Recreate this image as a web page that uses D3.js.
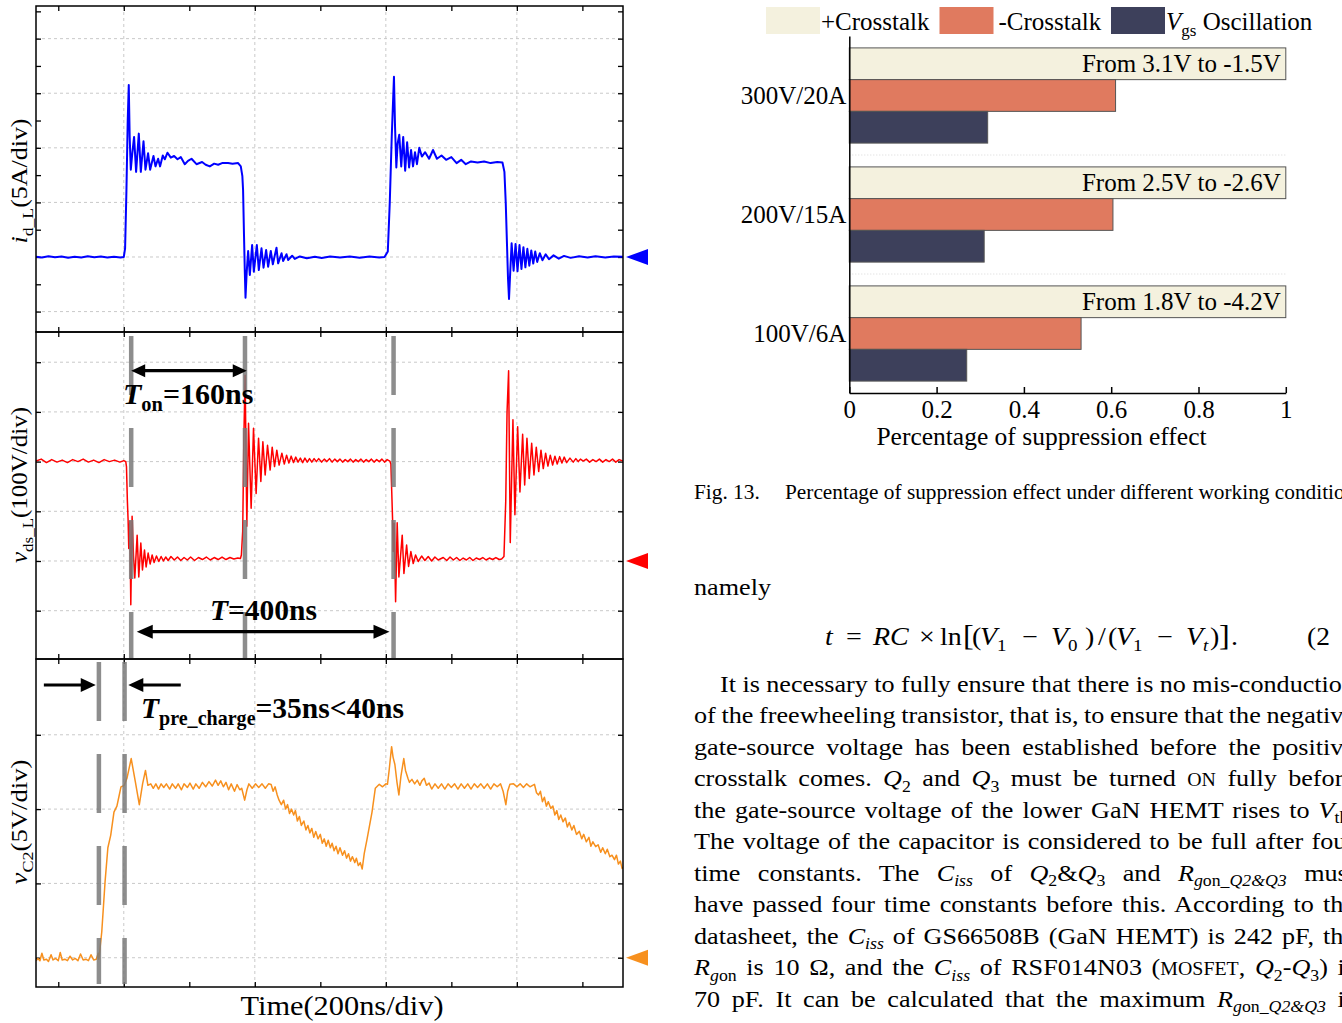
<!DOCTYPE html>
<html>
<head>
<meta charset="utf-8">
<script src="https://cdn.jsdelivr.net/npm/d3@7"></script>
<style>
  body { margin: 0; background: #fff; }
  svg { display: block; }
  text { font-family: 'Liberation Serif', 'Times New Roman', serif; fill: #000; }
</style>
</head>
<body>
<svg id="fig" width="1342" height="1023"></svg>
<script>
// ---- bar chart data (Fig. 13) ----
const barCategories = ['300V/20A', '200V/15A', '100V/6A']
const barSeries = ['+Crosstalk', '-Crosstalk', 'Vgs Oscillation']
const plusCrosstalk = [1, 1, 1]
const minusCrosstalk = [0.61, 0.604, 0.531]
const vgsOscillation = [0.317, 0.309, 0.269]
const barNotes = ['From 3.1V to -1.5V', 'From 2.5V to -2.6V', 'From 1.8V to -4.2V']
const barTicks = [0, 0.2, 0.4, 0.6, 0.8, 1]
const barColors = ['#f4f1de', '#e07a5f', '#3d405b']

// ---- oscilloscope traces, [time ns, value] ----
const timeTicks = [-100, 0, 100, 200, 300, 400, 500, 600, 700]
const timeGrid = [0, 200, 400, 600]

const idWave = [
  [-134, 0.02], [-125, -0.05], [-115, 0.06], [-105, -0.03], [-95, 0.05], [-85, -0.06], [-75, 0.03], [-65, -0.04],
  [-55, 0.06], [-45, -0.03], [-35, 0.04], [-25, -0.05], [-15, 0.03], [-5, -0.04], [0, 0.0],
  [2, 0.8], [4, 6], [6, 12.5], [7.6, 15.75], [9, 11], [10.7, 8.0], [13, 9.5], [15.7, 11.0], [18.8, 7.8],
  [22.9, 11.3], [26, 7.8], [30.1, 10.6], [33.1, 8.0], [37.1, 9.5], [40.2, 8.0], [45.3, 9.25], [48.4, 8.3],
  [52.4, 9.0], [55.4, 8.3], [59.5, 9.3], [62.6, 8.95], [66.7, 9.55], [71.8, 9.1], [76.8, 9.25], [82, 8.95],
  [87, 9.15], [93.1, 8.5], [98, 8.8], [103.4, 9.0], [111, 8.5], [119.5, 8.7], [125, 8.45], [131.3, 8.3],
  [138, 8.55], [144, 8.45], [150, 8.6], [159.2, 8.6], [166, 8.55], [174.5, 8.6], [178.6, 8.3], [181, 7.4],
  [182.1, 6.1], [183.5, 2.0], [184.8, -1.5], [185.8, -3.73], [187.5, -1.5], [189.8, 0.55], [192.4, -1.65],
  [195.9, 1.1], [198.5, -1.35], [203.1, 1.1], [206.1, -1.2], [210.2, 0.8], [213.3, -0.98], [217.3, 0.64],
  [220.3, -0.89], [224.4, 0.55], [227.5, -0.67], [233.1, 0.85], [235.6, -0.58], [240.8, 0.34], [243.2, -0.37],
  [248.4, 0.25], [250.8, -0.27], [257, 0.12], [261, -0.18], [268.7, 0.05], [279.4, -0.12], [291.6, 0.02],
  [302, -0.1], [315, 0.05], [330, -0.05], [345, 0.04], [360, -0.06], [375, 0.05], [390, -0.05], [398, 0.0],
  [403, 0.5], [406, 5], [409, 11], [412.4, 16.5], [414, 12], [416, 8.2], [418, 10.4], [420.5, 11.2],
  [423.5, 8.3], [426.5, 11.0], [429.5, 7.9], [432.5, 10.5], [435.5, 8.2], [438.5, 9.8], [441.5, 8.3],
  [444.5, 9.6], [447.5, 8.5], [451, 10.0], [455, 9.2], [460, 9.6], [466, 9.0], [472, 9.8], [478, 9.0],
  [485, 9.3], [492, 8.9], [500, 9.15], [508, 8.6], [515, 8.9], [522, 8.5], [530, 8.75], [540, 8.65],
  [550, 8.75], [560, 8.6], [570, 8.7], [578, 8.65], [581, 7.8], [583, 5], [585, 1], [586.5, -2], [588, -3.85],
  [590, -1.2], [592, 1.25], [595, -1.25], [598, 1.2], [601, -1.3], [604, 1.1], [607, -1.1], [610, 0.9],
  [613, -0.95], [616, 0.75], [619, -0.8], [622, 0.6], [625, -0.6], [628, 0.5], [631, -0.45], [635, 0.35],
  [639, -0.3], [644, 0.25], [649, -0.2], [656, 0.15], [664, -0.15], [672, 0.1], [682, -0.08], [695, 0.06],
  [708, -0.05], [720, 0.07], [735, -0.04], [748, 0.05], [762, 0.02],
]

const vdsWave = [
  [-134, 201], [-126, 205], [-118, 198], [-110, 204], [-102, 199], [-94, 203], [-86, 198], [-78, 204],
  [-70, 200], [-62, 205], [-54, 199], [-46, 203], [-38, 198], [-30, 204], [-22, 200], [-14, 203], [-6, 199],
  [0, 202], [3, 200], [4.1, 190], [5.5, 120], [6.6, 82], [7.6, 25], [9.2, 80], [10.7, -88], [12.7, 90],
  [14.8, 10], [16.8, -34], [20.4, 52], [22.9, -32], [26, 36], [28.5, -18], [31.6, 22], [34.1, -12],
  [37.2, 16], [40.2, -6], [43.3, 12], [46.3, -3], [49.9, 10], [53.5, -1], [57, 9], [60.5, 0], [64, 8],
  [67.7, 1], [72, 9], [77, 2], [82, 8], [87, 1], [92, 7], [97, 2], [102, 8], [108, 1], [114, 7], [120, 3],
  [126, 8], [132, 2], [138, 7], [144, 3], [150, 8], [156, 3], [162, 7], [168, 4], [174, 6], [178, 5],
  [179.5, 12], [181.5, 60], [183.3, 250], [185.2, 374], [187.8, 70], [190.4, 277], [194.4, 106], [198, 267],
  [202, 136], [205.7, 247], [209.2, 160], [212.3, 240], [215.8, 173], [219.4, 233], [223.4, 183],
  [226.5, 229], [230.1, 190], [233.6, 223], [237.1, 193], [241.3, 217], [245, 195], [248.5, 213], [252, 197],
  [255.5, 211], [259, 198], [262.5, 209], [266, 199], [269.5, 207], [273, 198], [276.5, 207], [280, 199],
  [283.5, 206], [287, 199], [290.5, 206], [294, 200], [297.5, 206], [302, 199], [306, 205], [310, 200],
  [314, 206], [318, 199], [322, 205], [326, 200], [330, 205], [334, 199], [338, 204], [342, 200], [346, 205],
  [350, 199], [354, 204], [358, 200], [362, 205], [366, 199], [370, 204], [374, 200], [378, 205], [382, 199],
  [386, 204], [390, 200], [394, 205], [398, 199], [402, 204], [406, 201], [407.7, 195], [409, 140],
  [410.3, 82], [411.2, 19], [412.7, 76], [414.9, -82], [417.3, 77], [419.9, -32], [425, 52], [427.6, -25],
  [431.7, 32], [434.7, -11], [438.2, 19], [441.8, -5], [445.4, 12], [449.4, -1], [454.6, 10], [459.6, 1],
  [464.7, 9], [469.9, 0], [474.9, 8], [479.9, 2], [487.6, 7], [493, 1], [498, 8], [503, 2], [508, 7],
  [513, 1], [518, 6], [523, 2], [528, 7], [533, 1], [538, 6], [543, 3], [548, 7], [553, 2], [558, 6],
  [563, 3], [568, 7], [573, 3], [576.7, 4], [580.3, 9], [583, 120], [585, 300], [587.4, 383], [589.9, 37],
  [594, 284], [597, 93], [601.2, 270], [604.7, 139], [608.8, 255], [611.9, 153], [615.4, 247], [618.9, 166],
  [622.6, 237], [626.1, 173], [629.6, 229], [633.3, 180], [636.8, 223], [640.3, 186], [643.9, 217],
  [647.4, 191], [651, 213], [654.6, 193], [658.1, 211], [661.6, 195], [665.3, 210], [668.8, 197],
  [672.3, 209], [676, 198], [681, 207], [686, 199], [690, 206], [693.7, 200], [697, 205], [701.3, 201],
  [706, 205], [711, 199], [716, 204], [721, 200], [726, 205], [731, 199], [736, 204], [741, 200], [746, 205],
  [751, 199], [756, 204], [762, 201],
]

const vc2Wave = [
  [-134, -0.2], [-131, -0.05], [-128, -0.2], [-125, 0.3], [-122, -0.15], [-118, -0.1], [-115, -0.25],
  [-111, 0.2], [-108, -0.15], [-104, -0.05], [-100, -0.2], [-97, 0.35], [-94, -0.15], [-90, -0.1],
  [-86, -0.2], [-82, 0.1], [-78, -0.15], [-74, -0.05], [-70, -0.2], [-66, 0.25], [-62, -0.15], [-58, -0.1],
  [-54, -0.2], [-50, 0.2], [-46, -0.15], [-42, -0.1], [-39, 0.3], [-38, -0.1], [-33.6, 1.75], [-28.6, 5.1],
  [-24.3, 7.4], [-19.9, 8.25], [-15, 9.8], [-10.5, 10.2], [-6.9, 10.95], [-4.3, 11.5], [0.6, 11.6],
  [5, 12.1], [11.3, 13.4], [17.6, 11.85], [23.7, 10.3], [28.7, 11.7], [33.1, 12.6], [36.8, 11.6],
  [41.2, 11.7], [45, 11.4], [49, 11.7], [53, 11.35], [57, 11.7], [61, 11.45], [65, 11.7], [70, 11.35],
  [74, 11.7], [79, 11.4], [83, 11.7], [88, 11.3], [92, 11.7], [97, 11.45], [101, 11.75], [106, 11.35],
  [110, 11.7], [115, 11.4], [120, 11.8], [125, 11.5], [130, 11.85], [135, 11.55], [140, 11.95], [144, 11.6],
  [148, 11.9], [152, 11.5], [156, 11.8], [160, 11.3], [164, 11.7], [169, 11.2], [173, 11.65], [177, 11.3],
  [180, 11.4], [184.5, 10.6], [188, 11.3], [191, 11.7], [196, 11.4], [201, 11.7], [206, 11.45], [211, 11.7],
  [216, 11.4], [221, 11.7], [224.9, 11.65], [228, 11.2], [231, 11.5], [234.2, 10.95], [237, 10.6],
  [240.5, 10.3], [244, 10.6], [247, 10.0], [250, 10.3], [253, 9.7], [256, 10.0], [259.3, 9.6], [262, 9.9],
  [265, 9.2], [268, 9.5], [271, 8.9], [274.8, 9.2], [278, 8.6], [281, 8.9], [284, 8.4], [287, 8.7],
  [290, 8.1], [293, 8.5], [296.5, 8.0], [300, 8.3], [303, 7.7], [306, 8.0], [309, 7.5], [312, 7.9],
  [315.3, 7.4], [318, 7.7], [321, 7.2], [324, 7.5], [327, 7.0], [330, 7.4], [333.9, 6.9], [337, 7.2],
  [340, 6.7], [343, 7.0], [346, 6.5], [349, 6.8], [352.7, 6.4], [355, 6.7], [358, 6.2], [361, 6.4],
  [363.9, 5.97], [367, 7.0], [371.4, 8.0], [378.9, 9.8], [383.9, 11.4], [390, 11.67], [395, 11.5],
  [400, 11.7], [402.5, 11.67], [405, 12.6], [408.8, 14.2], [411, 13.5], [413.8, 13.0], [417, 11.8],
  [419.9, 10.95], [423, 12.2], [427.4, 13.4], [430, 12.6], [433.7, 12.07], [436, 11.8], [439.8, 12.0],
  [444, 11.7], [448, 11.95], [452, 11.6], [455, 11.9], [458.6, 12.07], [462, 11.6], [466, 11.75],
  [470, 11.35], [475, 11.7], [480, 11.4], [485, 11.7], [490, 11.35], [495, 11.7], [500, 11.45], [505, 11.7],
  [510, 11.35], [515, 11.7], [520, 11.4], [525, 11.7], [530, 11.35], [535, 11.7], [540, 11.45], [545, 11.7],
  [550, 11.4], [555, 11.7], [560, 11.35], [565, 11.7], [570, 11.5], [575, 11.7], [579, 11.2], [583.2, 10.3],
  [586, 11.2], [589.4, 11.67], [595, 11.7], [600, 11.5], [605, 11.7], [610, 11.45], [615, 11.7], [620, 11.5],
  [626.8, 11.67], [630, 11.1], [633.1, 10.95], [636, 11.2], [639, 10.5], [642, 10.8], [645, 10.2],
  [648, 10.5], [651.7, 10.05], [655, 10.2], [658, 9.6], [661, 9.9], [664, 9.3], [667, 9.6], [670.4, 9.15],
  [674, 9.4], [677, 8.8], [680, 9.1], [684, 8.6], [687, 8.9], [691, 8.3], [695.4, 8.5], [699, 8.0],
  [702, 8.3], [706, 7.8], [710, 8.1], [713, 7.5], [716, 7.8], [720.3, 7.47], [724, 7.6], [728, 7.1],
  [731, 7.4], [735, 7.0], [738, 7.3], [742, 6.8], [745.2, 6.9], [749, 6.6], [752, 6.9], [755, 6.3],
  [758, 6.5], [760.7, 6.0], [762, 6.1],
]

const svg = d3.select('#fig')

// rich text helper: parts = [text, flags, x], flags: i italic, s subscript, c small caps, L large
function rich(sel, parts, size) {
  let shift = 0
  parts.forEach(([t, f = '', px]) => {
    const ts = sel.append('tspan').text(t)
    const want = f.includes('s') ? size * 0.24 : 0
    if (want !== shift) {
      ts.attr('dy', want - shift)
      shift = want
    }
    if (f.includes('s')) ts.attr('font-size', size * 0.68)
    if (f.includes('c')) ts.attr('font-size', size * 0.76)
    if (f.includes('L')) ts.attr('font-size', size * 1.15)
    if (f.includes('i')) ts.attr('font-style', 'italic')
    if (px != null) ts.attr('x', px)
  })
  return sel
}

// ================= oscilloscope panels =================
const left = 36
const right = 623
const x = d3.scaleLinear().domain([-134, 762]).range([left, right])

const panels = [
  { top: 6, bottom: 332, domain: [-6.87, 22.99], ticks: d3.range(-5, 23, 2.5), grid: [-5, 0, 5, 10, 15, 20],
    wave: idWave, color: '#0000ff', lw: 2, labelY: 181, labelLen: 125,
    label: [['i', 'i'], ['d_L', 's'], ['(5A/div)']] },
  { top: 332, bottom: 659, domain: [-197.2, 460.8], ticks: [-100, 0, 100, 200, 300, 400], grid: [-100, 0, 100, 200, 300, 400],
    wave: vdsWave, color: '#ff0000', lw: 1.5, labelY: 485, labelLen: 156,
    label: [['v', 'i'], ['ds_L', 's'], ['(100V/div)']] },
  { top: 659, bottom: 987, domain: [-1.97, 20.1], ticks: [0, 5, 10, 15], grid: [0, 5, 10, 15],
    wave: vc2Wave, color: '#f7901e', lw: 1.5, labelY: 822, labelLen: 125,
    label: [['v', 'i'], ['C2', 's'], ['(5V/div)']] },
]

panels.forEach((p, i) => {
  const y = d3.scaleLinear().domain(p.domain).range([p.bottom, p.top])
  const g = svg.append('g')
  const clipId = `clip${i}`
  svg.append('clipPath').attr('id', clipId)
    .append('rect').attr('x', left).attr('y', p.top).attr('width', right - left).attr('height', p.bottom - p.top)

  g.selectAll('.hgrid').data(p.grid).enter().append('line')
    .attr('x1', left).attr('x2', right).attr('y1', (d) => y(d)).attr('y2', (d) => y(d))
    .attr('stroke', '#c9c9c9').attr('stroke-dasharray', '3,3')
  g.selectAll('.vgrid').data(timeGrid).enter().append('line')
    .attr('y1', p.top).attr('y2', p.bottom).attr('x1', (d) => x(d)).attr('x2', (d) => x(d))
    .attr('stroke', '#c9c9c9').attr('stroke-dasharray', '3,3')

  const tick = (axis, tx, ty) => {
    const a = g.append('g').attr('transform', `translate(${tx},${ty})`)
      .call(axis.tickSizeInner(-5).tickSizeOuter(0).tickFormat(''))
    a.select('.domain').remove()
    a.selectAll('line').attr('stroke', '#000').attr('stroke-width', 1.3)
  }
  tick(d3.axisLeft(y).tickValues(p.ticks), left, 0)
  tick(d3.axisRight(y).tickValues(p.ticks), right, 0)
  tick(d3.axisTop(x).tickValues(timeTicks), 0, p.top)
  tick(d3.axisBottom(x).tickValues(timeTicks), 0, p.bottom)

  g.append('path').datum(p.wave)
    .attr('clip-path', `url(#${clipId})`)
    .attr('fill', 'none').attr('stroke', p.color).attr('stroke-width', p.lw).attr('stroke-linejoin', 'round')
    .attr('d', d3.line().x((d) => x(d[0])).y((d) => y(d[1])))

  g.append('rect').attr('x', left).attr('y', p.top).attr('width', right - left).attr('height', p.bottom - p.top)
    .attr('fill', 'none').attr('stroke', '#000').attr('stroke-width', 1.5)

  // zero-level marker
  const y0 = y(0)
  g.append('path').attr('d', `M${right + 3},${y0} L${right + 25},${y0 - 8} L${right + 25},${y0 + 8} Z`)
    .attr('fill', p.color)

  const lab = svg.append('text')
    .attr('transform', `translate(27,${p.labelY}) rotate(-90)`)
    .attr('text-anchor', 'middle').attr('font-size', 23)
  rich(lab, p.label, 23)
  lab.attr('textLength', p.labelLen).attr('lengthAdjust', 'spacingAndGlyphs')
})

svg.append('text').attr('x', 342).attr('y', 1015).attr('text-anchor', 'middle')
  .attr('font-size', 28).attr('textLength', 203).attr('lengthAdjust', 'spacingAndGlyphs')
  .text('Time(200ns/div)')

// ---- annotations on the traces ----
const ann = svg.append('g')
const markerStyle = (s) => s.attr('stroke', '#7a7a7a').attr('stroke-width', 4.5).attr('stroke-dasharray', '59,33').attr('opacity', 0.85)
;[11.3, 185, 411.8].forEach((t) => {
  ann.append('line').attr('x1', x(t)).attr('x2', x(t)).attr('y1', 336).attr('y2', 658).call(markerStyle)
})
;[-38, 1.2].forEach((t) => {
  ann.append('line').attr('x1', x(t)).attr('x2', x(t)).attr('y1', 662).attr('y2', 984).call(markerStyle)
})

const head = (xTip, y, dir, len, hw) =>
  ann.append('path').attr('d', `M${xTip},${y} L${xTip - dir * len},${y - hw} L${xTip - dir * len},${y + hw} Z`).attr('fill', '#000')
const arrow = (t1, t2, y, both, len = 14, hw = 6.5) => {
  const a = x(t1)
  const b = x(t2)
  const dir = Math.sign(b - a)
  ann.append('line').attr('x1', a + (both ? dir * len * 0.8 : 0)).attr('x2', b - dir * len * 0.8)
    .attr('y1', y).attr('y2', y).attr('stroke', '#000').attr('stroke-width', 3.2)
  head(b, y, dir, len, hw)
  if (both) head(a, y, -dir, len, hw)
}
arrow(11.3, 187.7, 370.7, true)
arrow(19.8, 405.6, 631.7, true, 16, 7)
arrow(-122, -42.8, 685, false, 15, 7)
arrow(87, 6.9, 685, false, 15, 7)

const bold = (px, py, parts, size) => {
  const t = ann.append('text').attr('x', px).attr('y', py).attr('font-size', size).attr('font-weight', 'bold')
  rich(t, parts, size)
}
bold(123, 404, [['T', 'i'], ['on', 's'], ['=160ns']], 30)
bold(210, 620, [['T', 'i'], ['=400ns']], 29.5)
bold(141, 718, [['T', 'i'], ['pre_charge', 's'], ['=35ns<40ns']], 29.5)

// ================= bar chart =================
const bx = d3.scaleLinear().domain([0, 1]).range([849.3, 1285.8])
const by = d3.scaleBand().domain(barCategories).range([36, 393])
const inner = d3.scaleBand().domain(barSeries).range([0, by.bandwidth()]).paddingOuter(0.375)
const seriesValues = [plusCrosstalk, minusCrosstalk, vgsOscillation]

const bars = svg.append('g')
bars.selectAll('.sep').data(barCategories.slice(1)).enter().append('line')
  .attr('x1', bx(0)).attr('x2', bx(1)).attr('y1', (d) => by(d)).attr('y2', (d) => by(d))
  .attr('stroke', '#d8d8d8').attr('stroke-dasharray', '1,2')

barSeries.forEach((s, j) => {
  bars.selectAll(`.bar${j}`).data(barCategories).enter().append('rect')
    .attr('x', bx(0))
    .attr('y', (d) => by(d) + inner(s))
    .attr('width', (d, i) => bx(seriesValues[j][i]) - bx(0))
    .attr('height', inner.bandwidth())
    .attr('fill', barColors[j])
    .attr('stroke', '#555').attr('stroke-width', 1)
})

bars.selectAll('.note').data(barCategories).enter().append('text')
  .attr('x', bx(1) - 5)
  .attr('y', (d) => by(d) + inner(barSeries[0]) + inner.bandwidth() / 2 + 8.5)
  .attr('text-anchor', 'end').attr('font-size', 25)
  .text((d, i) => barNotes[i])

const xAxis = bars.append('g').attr('transform', 'translate(0,393)')
  .call(d3.axisBottom(bx).tickValues(barTicks).tickFormat(d3.format('~g')).tickSizeInner(-6).tickSizeOuter(0).tickPadding(7))
xAxis.selectAll('text').attr('font-size', 25).attr('fill', '#000').attr('font-family', null)
xAxis.selectAll('line, path').attr('stroke', '#000').attr('stroke-width', 1.5)

const yAxis = bars.append('g').attr('transform', `translate(${bx(0)},0)`)
  .call(d3.axisLeft(by).tickSize(0).tickPadding(3))
yAxis.selectAll('text').attr('font-size', 25).attr('fill', '#000').attr('font-family', null)
yAxis.select('.domain').attr('stroke', '#000').attr('stroke-width', 1.5)

bars.append('text').attr('x', 1041.5).attr('y', 445).attr('text-anchor', 'middle').attr('font-size', 25.5)
  .text('Percentage of suppression effect')

// legend
const legendX = [766, 939.5, 1111]
const legendLabels = [[['+Crosstalk']], [['-Crosstalk']], [['V', 'i'], ['gs', 's'], [' Oscillation']]]
barSeries.forEach((s, j) => {
  bars.append('rect').attr('x', legendX[j]).attr('y', 7).attr('width', 54).attr('height', 27).attr('fill', barColors[j])
  const t = bars.append('text').attr('x', legendX[j] + (j === 1 ? 59 : 55)).attr('y', 29.5).attr('font-size', 25)
  rich(t, legendLabels[j], 25)
})

// ================= caption and body text (page text is slightly wide) =================
const stretch = 1.09
const wideText = (px, py, size, sx) =>
  svg.append('text').attr('transform', `translate(${px},${py}) scale(${sx},1)`).attr('font-size', size)

wideText(694, 498.5, 20.5, 1.04).text('Fig. 13.')
wideText(785, 498.5, 20.5, 1.04).text('Percentage of suppression effect under different working conditions.')
wideText(694, 595, 24, stretch).text('namely')

const eqLeft = 825
const eq = wideText(eqLeft, 645, 25, 1.12)
const ex = (px) => (px - eqLeft) / 1.12
rich(eq, [
  ['t', 'i', ex(825)], ['=', '', ex(846)], ['RC', 'i', ex(873)], ['\u00d7', '', ex(919)], ['ln', '', ex(940)],
  ['[', 'L', ex(963)], ['(', '', ex(972)], ['V', 'i', ex(980)], ['1', 's'], ['\u2212', '', ex(1022)],
  ['V', 'i', ex(1051)], ['0', 's'], [')', '', ex(1085)], ['/', '', ex(1098)], ['(', '', ex(1108)],
  ['V', 'i', ex(1116)], ['1', 's'], ['\u2212', '', ex(1157)], ['V', 'i', ex(1186)], ['t', 'is'],
  [')', '', ex(1210)], [']', 'L', ex(1219)], ['.', '', ex(1231)],
], 25)
wideText(1307, 645, 25, 1.1).text('(2')

const bodyLines = [
  [['It is necessary to fully ensure that there is no mis-conduction']],
  [['of the freewheeling transistor, that is, to ensure that the negative']],
  [['gate-source voltage has been established before the positive']],
  [['crosstalk comes. '], ['Q', 'i'], ['2', 's'], [' and '], ['Q', 'i'], ['3', 's'], [' must be turned '], ['ON', 'c'], [' fully before']],
  [['the gate-source voltage of the lower GaN HEMT rises to '], ['V', 'i'], ['th', 's'], ['.']],
  [['The voltage of the capacitor is considered to be full after four']],
  [['time constants. The '], ['C', 'i'], ['iss', 'is'], [' of '], ['Q', 'i'], ['2', 's'], ['&'], ['Q', 'i'], ['3', 's'],
    [' and '], ['R', 'i'], ['g', 'is'], ['on_', 's'], ['Q2&Q3', 'is'], [' must']],
  [['have passed four time constants before this. According to the']],
  [['datasheet, the '], ['C', 'i'], ['iss', 'is'], [' of GS66508B (GaN HEMT) is 242 pF, the']],
  [['R', 'i'], ['g', 'is'], ['on', 's'], [' is 10 \u03a9, and the '], ['C', 'i'], ['iss', 'is'], [' of RSF014N03 ('], ['MOSFET', 'c'],
    [', '], ['Q', 'i'], ['2', 's'], ['-'], ['Q', 'i'], ['3', 's'], [') is']],
  [['70 pF. It can be calculated that the maximum '], ['R', 'i'], ['g', 'is'], ['on_', 's'], ['Q2&Q3', 'is'], [' is']],
]
const columnRight = 1355
bodyLines.forEach((parts, i) => {
  const x0 = i === 0 ? 720 : 694
  const t = wideText(x0, 691.7 + i * 31.5, 24, stretch)
  rich(t, parts, 24)
  const natural = t.node().getComputedTextLength()
  const spaces = (t.text().match(/ /g) || []).length
  if (spaces) t.attr('word-spacing', ((columnRight - x0) / stretch - natural) / spaces)
})
</script>
</body>
</html>
